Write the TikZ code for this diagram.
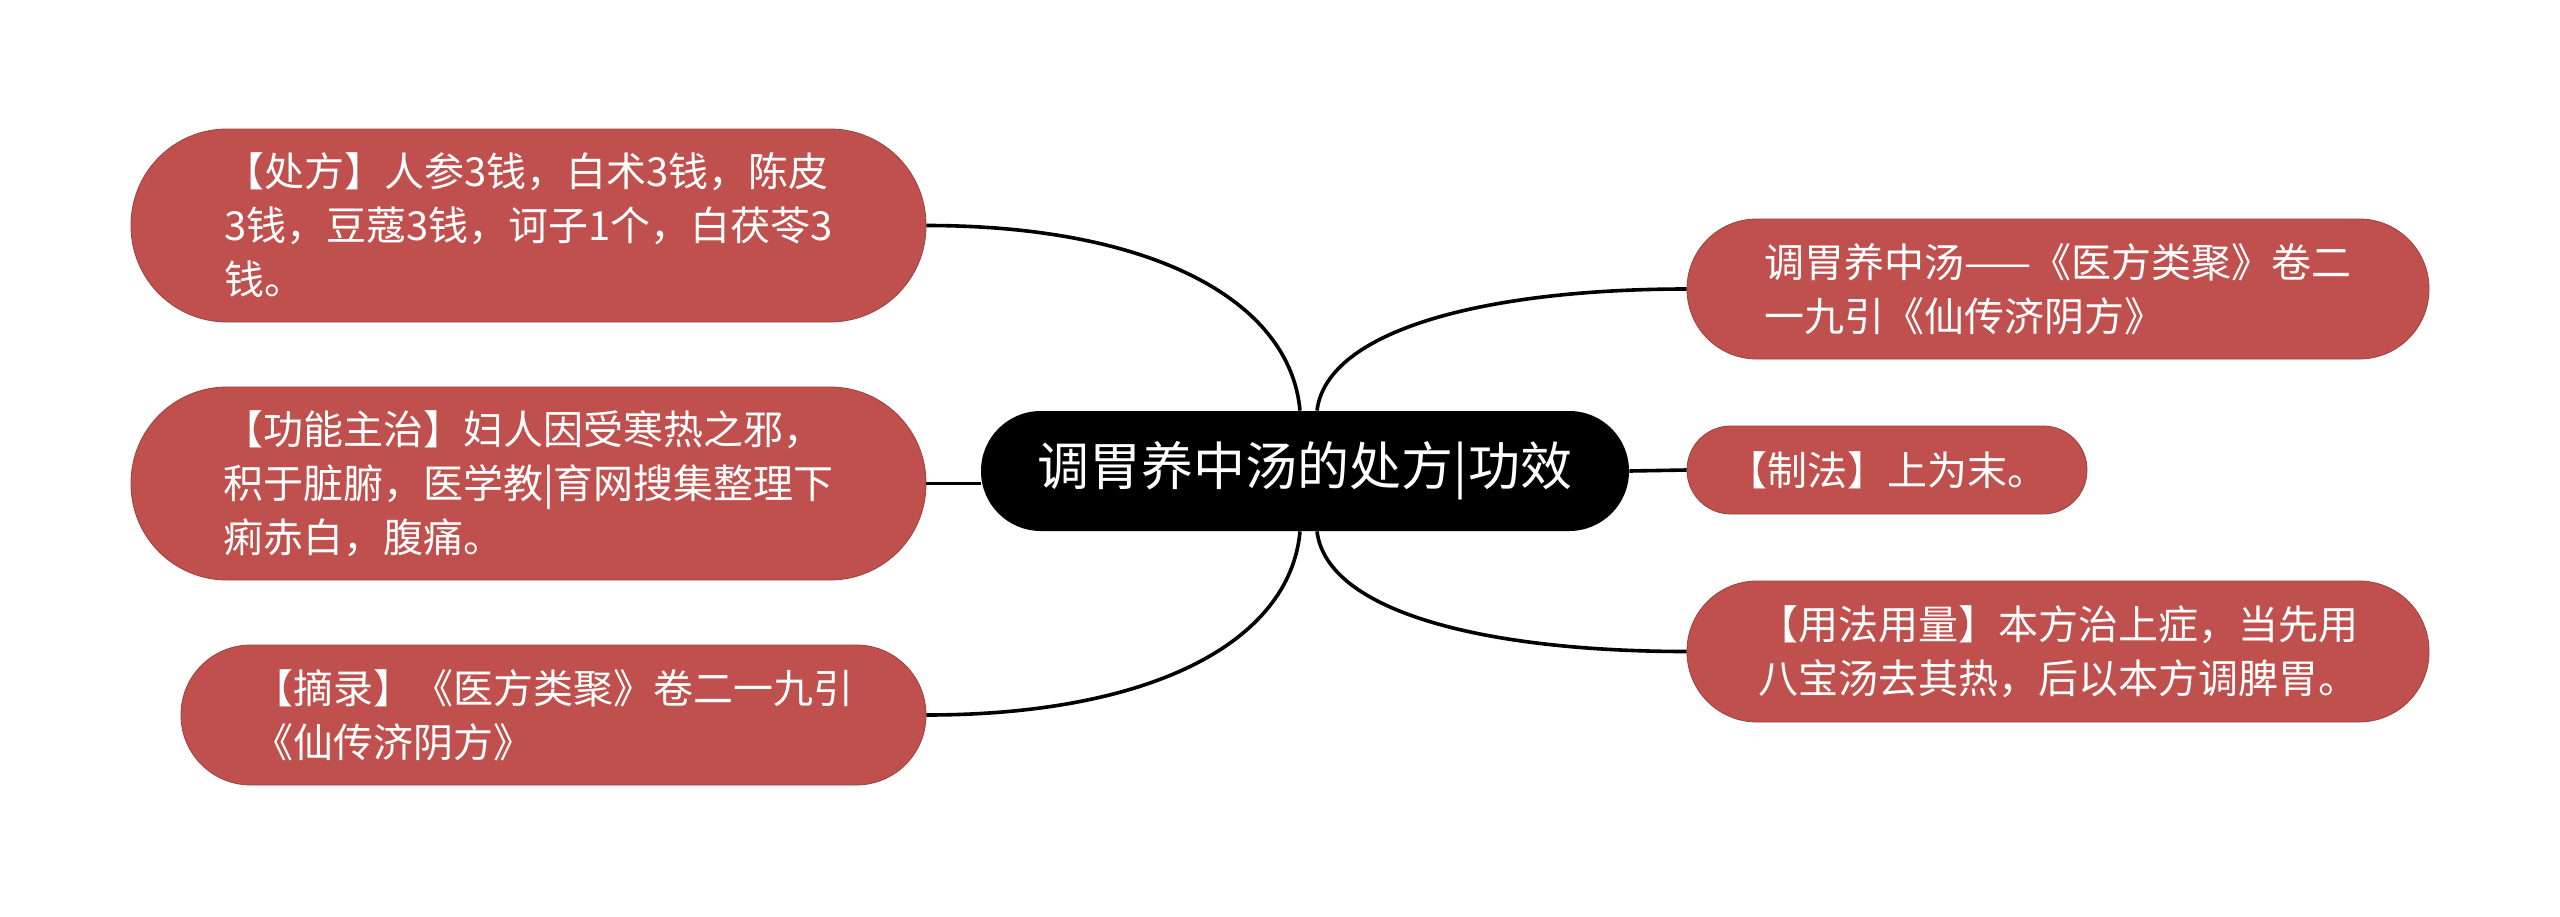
\documentclass[tikz,border=0pt]{standalone}
\usepackage{fontspec}
\setmainfont{Noto Sans CJK SC}
\usepackage{xcolor}
\usepackage{tikz}
\definecolor{leafred}{HTML}{C0504D}

\begin{document}
\begin{tikzpicture}[x=0.5pt, y=-0.5pt,
  leaf/.style={fill=leafred, draw=leafred!80!black, line width=0.4pt, text=white, align=left, inner sep=0pt, font=\fontsize{20pt}{27pt}\selectfont},
  root/.style={fill=black, text=white, inner sep=0pt, font=\fontsize{26pt}{32pt}\selectfont},
  link/.style={black, line width=1.8pt}]
  \useasboundingbox (0,0) rectangle (2560,916);
  \node[root, minimum width=324pt, minimum height=60pt, rounded corners=29.9pt] (topic) at (1305,471) {调胃养中汤的处方|功效};
  \node[leaf, minimum width=397.5pt, minimum height=96.5pt, rounded corners=48pt] (chufang) at (528.5,225.5) {【处方】人参3钱，白术3钱，陈皮\\3钱，豆蔻3钱，诃子1个，白茯苓3\\钱。};
  \node[leaf, minimum width=397.5pt, minimum height=96.5pt, rounded corners=48pt] (gongneng) at (528.5,483.5) {【功能主治】妇人因受寒热之邪，\\积于脏腑，医学教|育网搜集整理下\\痢赤白，腹痛。};
  \node[leaf, minimum width=372.5pt, minimum height=70pt, rounded corners=34.9pt] (zhailu) at (553.5,715) {【摘录】《医方类聚》卷二一九引\\《仙传济阴方》};
  \node[leaf, minimum width=371pt, minimum height=70pt, rounded corners=34.9pt] (laiyuan) at (2058,289) {调胃养中汤——《医方类聚》卷二\\一九引《仙传济阴方》};
  \node[leaf, minimum width=200pt, minimum height=44pt, rounded corners=21.9pt] (zhifa) at (1887,470) {【制法】上为末。};
  \node[leaf, minimum width=371pt, minimum height=70.5pt, rounded corners=35pt] (yongfa) at (2058,651.5) {【用法用量】本方治上症，当先用\\八宝汤去其热，后以本方调脾胃。};
  \coordinate (tl) at ([xshift=-2.5pt]topic.north);
  \coordinate (tr) at ([xshift=6pt]topic.north);
  \coordinate (bl) at ([xshift=-2.5pt]topic.south);
  \coordinate (br) at ([xshift=6pt]topic.south);
  \draw[link] (chufang.east) .. controls +(224,0) and +(-10,-111) .. (tl);
  \draw[link] (gongneng.east) -- (gongneng.east -| topic.west);
  \draw[link] (zhailu.east) .. controls +(224,0) and +(-10,111) .. (bl);
  \draw[link] (tr) .. controls +(10,-81) and +(-200,0) .. (laiyuan.west);
  \draw[link] (topic.east) -- (zhifa.west);
  \draw[link] (br) .. controls +(10,81) and +(-200,0) .. (yongfa.west);
\end{tikzpicture}
\end{document}
